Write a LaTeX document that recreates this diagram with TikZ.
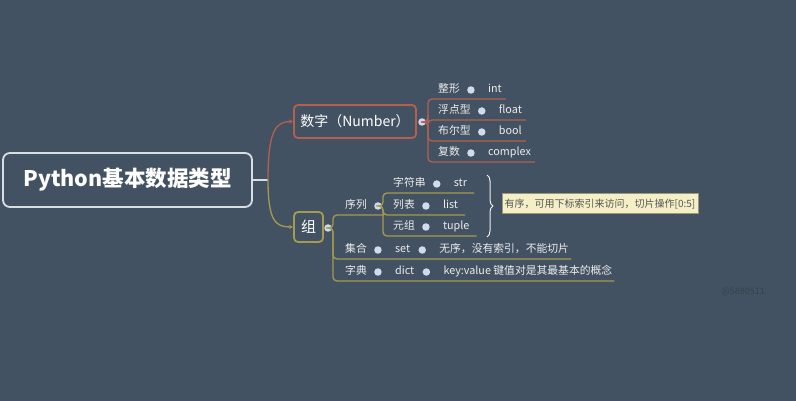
\documentclass[tikz,border=0pt]{standalone}
\usepackage{fontspec}
\setmainfont{Noto Sans CJK SC}
\usetikzlibrary{positioning,arrows.meta,decorations.pathreplacing}

\definecolor{bgslate}{HTML}{435262}
\definecolor{rootedge}{HTML}{D9DEE3}
\definecolor{numred}{HTML}{B3604F}
\definecolor{grpolive}{HTML}{A59B50}
\definecolor{knobblue}{HTML}{D2DAF2}
\definecolor{leafgray}{HTML}{ECECEC}
\definecolor{notefill}{HTML}{F4EFC6}
\definecolor{noteedge}{HTML}{9E9772}
\definecolor{notetext}{HTML}{555555}

\newcommand{\fsz}[1]{\fontsize{#1}{#1}\selectfont}

\begin{document}
\begin{tikzpicture}[x=1pt, y=-1pt,
    rootbox/.style={draw=rootedge, line width=1.8pt, rounded corners=7pt,
                    text=white, font=\bfseries\fsz{21.5}, minimum width=249pt,
                    minimum height=54pt},
    numbox/.style={draw=numred, line width=1.8pt, rounded corners=4pt,
                   text=white, font=\fsz{14}, minimum width=122pt,
                   minimum height=33pt, inner sep=0pt},
    grpbox/.style={draw=grpolive, line width=1.8pt, rounded corners=4pt,
                   text=white, font=\fsz{15}, minimum width=29pt,
                   minimum height=30pt, inner sep=0pt},
    knob/.style={circle, fill=knobblue, inner sep=0pt, minimum size=7.5pt},
    leaf/.style={text=leafgray, font=\fsz{10.8}, inner sep=0pt, anchor=west,
                 text height=0.78em, text depth=0.22em},
    numline/.style={numred, line width=1.3pt},
    grpline/.style={grpolive, line width=1.3pt},
    bracemark/.style={decorate, decoration={brace, amplitude=6pt},
                      draw=leafgray!80, line width=1pt},
    note/.style={fill=notefill, draw=noteedge, line width=1pt, text=notetext,
                 font=\fsz{10}, minimum width=196pt, minimum height=20pt,
                 inner sep=0pt},
]

\fill[bgslate] (0,0) rectangle (796,401);

% Central topic and its two branches
\node[rootbox] (root) at (127.5,180) {Python基本数据类型};
\node[numbox] (num) at (355,121.5) {数字（Number）};
\node[grpbox] (grp) at (308.5,227) {组};
\node[knob] (ndot) at (422,122) {};
\node[knob] (gdot) at (328,228) {};

\coordinate (fork) at (268,180);
\draw[rootedge, line width=1.5pt] (root.east) -- (fork);
\draw[numline, -{Stealth[length=4pt, width=4pt]}]
    (fork) .. controls (268,130) and (276,121.5) .. (num.west);
\draw[grpline, -{Stealth[length=4pt, width=4pt]}]
    (fork) .. controls (268,222) and (276,227) .. (grp.west);

% Number subtypes
\foreach \i/\y/\lab/\val in {1/90/整形/int, 2/111/浮点型/float,
                             3/132/布尔型/bool, 4/153/复数/complex}{
  \node[leaf] (nl\i) at (438,\y) {\lab};
  \node[knob, right=7pt of nl\i] (nk\i) {};
  \node[leaf, right=13pt of nk\i] (nv\i) {\val};
  \draw[numline, rounded corners=4pt] (ndot.east) -- (428,122)
       |- ([xshift=4pt, yshift=-9pt]nv\i.east);
}

% Group: sequence types
\node[leaf] (seq) at (345,206) {序列};
\node[knob, right=7pt of seq] (sdot) {};
\draw[grpline, rounded corners=4pt] (gdot.east) -- (333,228) |- (384,215);

\foreach \i/\y/\lab/\val in {1/184/字符串/str, 2/206/列表/list, 3/227/元组/tuple}{
  \node[leaf] (sl\i) at (393,\y) {\lab};
  \node[knob, right=7pt of sl\i] (sk\i) {};
  \node[leaf, right=13pt of sk\i] (sv\i) {\val};
  \draw[grpline, rounded corners=4pt] (sdot.east) -- (383,206)
       |- ([xshift=7pt, yshift=-9pt]sv\i.east);
}

% Brace and note for the sequences
\draw[bracemark] (487,175) -- (487,237);
\node[note] (memo) at (600,204) {有序，可用下标索引来访问，切片操作[0:5]};

% Group: set and dict
\foreach \i/\y/\lab/\val/\desc in {1/250/集合/set/无序，没有索引，不能切片,
                                   2/272/字典/dict/key:value 键值对是其最基本的概念}{
  \node[leaf] (gl\i) at (345,\y) {\lab};
  \node[knob, right=7pt of gl\i] (gk\i) {};
  \node[leaf, right=13pt of gk\i] (gv\i) {\val};
  \node[knob, right=8pt of gv\i] (gm\i) {};
  \node[leaf, right=13pt of gm\i] (gd\i) {\desc};
  \draw[grpline, rounded corners=4pt] (gdot.east) -- (333,228)
       |- ([xshift=2pt, yshift=-9pt]gd\i.east);
}

% Watermark
\node[text=bgslate!80!black, font=\fsz{9}] (mark) at (743,292) {@5880511};

\end{tikzpicture}
\end{document}
